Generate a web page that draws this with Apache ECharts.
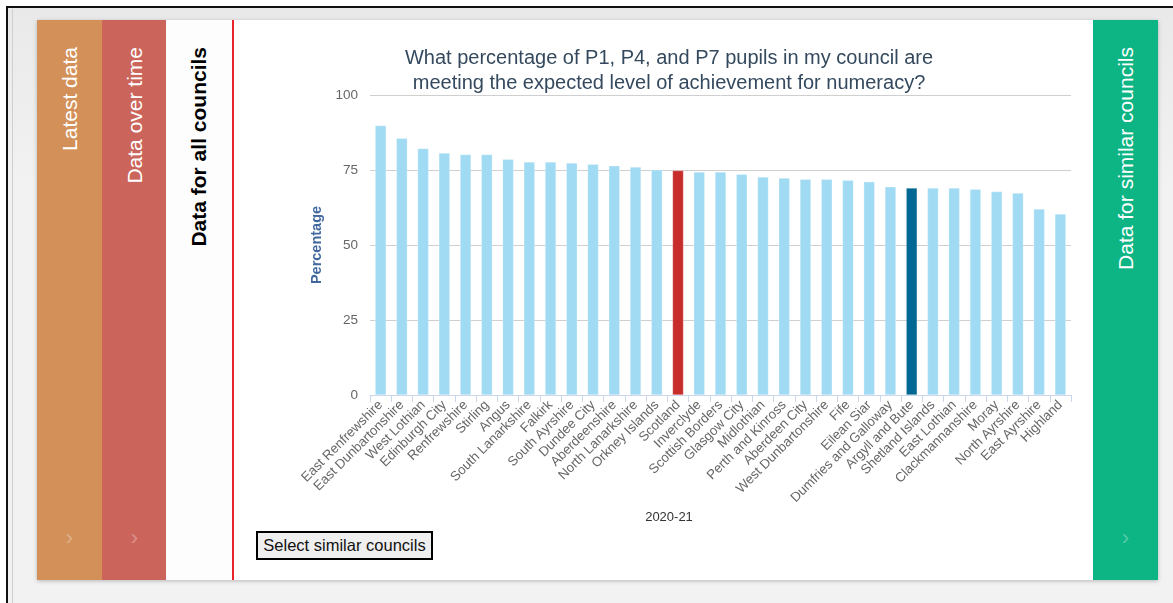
<!DOCTYPE html>
<html>
<head>
<meta charset="utf-8">
<script src="https://cdn.jsdelivr.net/npm/echarts@6/dist/echarts.min.js"></script>
<style>
  html, body { margin: 0; padding: 0; width: 1173px; height: 603px; overflow: hidden; background: #fff;
    font-family: "Liberation Sans", Arial, sans-serif; }
  #frame { position: absolute; left: 6px; top: 6px; width: 1167px; height: 597px;
    border-top: 2px solid #111; border-left: 2px solid #111;
    background: linear-gradient(#e9e9e9, #f2f2f2 30%, #f2f2f2); }
  #inner { position: absolute; left: 12px; top: 9px; width: 1161px; height: 594px; border-left: 1px solid #d0d0d0; }
  #box { position: absolute; left: 37px; top: 20px; width: 1121px; height: 560px; background: #fff;
    box-shadow: 0 1px 4px rgba(0,0,0,0.25); }
  .tab { position: absolute; top: 0; height: 560px; width: 65px; }
  .tab .lbl { position: absolute; left: 0; width: 100%; top: 27px; display: flex; justify-content: center; }
  .tab .lbl span { writing-mode: vertical-rl; transform: rotate(180deg); font-size: 21px; white-space: nowrap; color: #fff; }
  .tab .chev { position: absolute; left: 0; width: 100%; top: 505px; text-align: center; color: rgba(255,255,255,0.3);
    font-size: 22px; }
  #chart { position: absolute; left: 234px; top: 20px; width: 859px; height: 560px; }
  #btn { position: absolute; left: 256px; top: 531px; width: 177px; height: 29px; box-sizing: border-box;
    border: 2px solid #000; background: #efefef; font-family: "Liberation Sans", Arial, sans-serif;
    font-size: 16.5px; color: #111; padding: 0; text-align: center; line-height: 25px; }
</style>
</head>
<body>
<div id="frame"></div>
<div id="inner"></div>
<div id="box">
  <div class="tab" style="left:0;background:#d39159;"><div class="lbl"><span>Latest data</span></div><div class="chev">›</div></div>
  <div class="tab" style="left:65px;background:#cb655b;"><div class="lbl"><span>Data over time</span></div><div class="chev">›</div></div>
  <div class="tab" style="left:129px;width:66px;background:#fdfdfd;border-right:2px solid #e8262a;"><div class="lbl"><span style="color:#000;font-weight:bold;">Data for all councils</span></div></div>
  <div class="tab" style="left:1056px;background:#0db584;"><div class="lbl"><span>Data for similar councils</span></div><div class="chev">›</div></div>
</div>
<div id="chart"></div>
<button id="btn">Select similar councils</button>
<script>
var councils = ['East Renfrewshire', 'East Dunbartonshire', 'West Lothian', 'Edinburgh City', 'Renfrewshire',
  'Stirling', 'Angus', 'South Lanarkshire', 'Falkirk', 'South Ayrshire', 'Dundee City', 'Aberdeenshire',
  'North Lanarkshire', 'Orkney Islands', 'Scotland', 'Inverclyde', 'Scottish Borders', 'Glasgow City',
  'Midlothian', 'Perth and Kinross', 'Aberdeen City', 'West Dunbartonshire', 'Fife', 'Eilean Siar',
  'Dumfries and Galloway', 'Argyll and Bute', 'Shetland Islands', 'East Lothian', 'Clackmannanshire',
  'Moray', 'North Ayrshire', 'East Ayrshire', 'Highland'];

var percentages = [89.8, 85.6, 82.2, 80.7, 80.2, 80.2, 78.6, 77.7, 77.7, 77.3, 76.9, 76.4,
  76.0, 75.1, 74.8, 74.3, 74.3, 73.6, 72.7, 72.3, 71.9, 71.9, 71.6, 71.1,
  69.4, 69.0, 69.0, 69.0, 68.6, 67.8, 67.3, 62.0, 60.3];

var yTicks = [0, 25, 50, 75, 100];

var nationalName = 'Scotland';
var myCouncil = 'Argyll and Bute';
var periodLabel = '2020-21';

var barData = percentages.map(function (v, i) {
  var c = '#a0dbf3';
  if (councils[i] === nationalName) c = '#c62d2b';
  if (councils[i] === myCouncil) c = '#006892';
  return { value: v, itemStyle: { color: c } };
});

var font = '"Liberation Sans", Arial, sans-serif';

var option = {
  animation: false,
  backgroundColor: '#fff',
  graphic: [
    {
      type: 'text', x: 435, y: 26,
      style: {
        text: 'What percentage of P1, P4, and P7 pupils in my council are\nmeeting the expected level of achievement for numeracy?',
        align: 'center', verticalAlign: 'top',
        font: '20px ' + font, fill: '#34495e', lineHeight: 25
      }
    },
    {
      type: 'text', x: 435, y: 497,
      style: { text: periodLabel, align: 'center', verticalAlign: 'middle', font: '13px ' + font, fill: '#333' }
    }
  ],
  grid: { left: 136, right: 22, top: 75, bottom: 185 },
  xAxis: {
    type: 'category',
    data: councils,
    axisLine: { lineStyle: { color: '#ccd6eb', width: 1 } },
    axisTick: { show: true, length: 7, lineStyle: { color: '#ccd6eb' } },
    axisLabel: { interval: 0, rotate: 45, fontFamily: font, fontSize: 13.3, color: '#666', margin: 8 }
  },
  yAxis: {
    type: 'value',
    min: yTicks[0],
    max: yTicks[yTicks.length - 1],
    interval: 25,
    name: 'Percentage',
    nameLocation: 'middle',
    nameGap: 44,
    nameTextStyle: { fontFamily: font, fontSize: 14.5, fontWeight: 'bold', color: '#41689e' },
    axisLine: { show: false },
    axisTick: { show: false },
    axisLabel: { fontFamily: font, fontSize: 13.5, color: '#666', margin: 12 },
    splitLine: { lineStyle: { color: '#cfcfcf', width: 1 } }
  },
  series: [{
    type: 'bar',
    data: barData,
    barWidth: 11,
    itemStyle: { borderColor: 'rgba(255,255,255,0.5)', borderWidth: 0.5 }
  }]
};

var chart = echarts.init(document.getElementById('chart'));
chart.setOption(option);
</script>
</body>
</html>
